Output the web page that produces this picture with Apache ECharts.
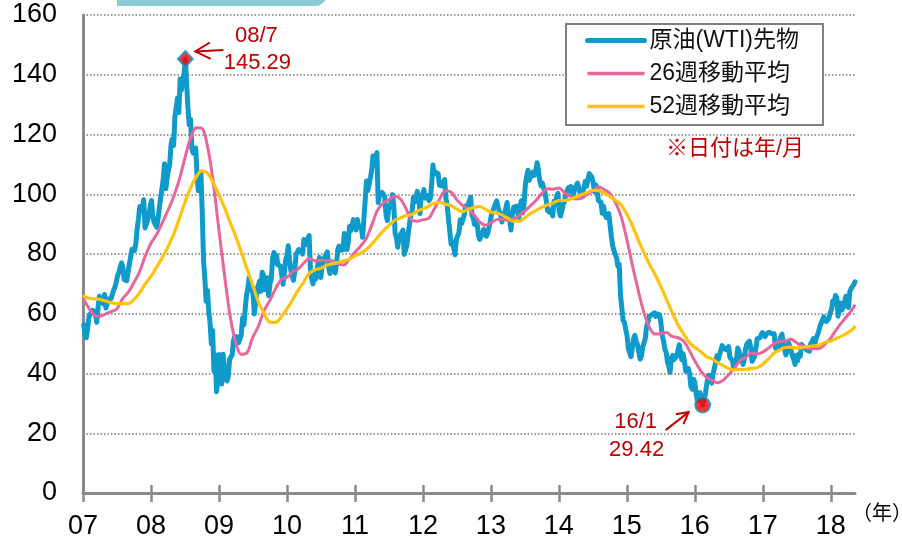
<!DOCTYPE html>
<html>
<head>
<meta charset="utf-8">
<script src="https://cdn.jsdelivr.net/npm/echarts@6/dist/echarts.min.js"></script>
<style>
  html, body { margin: 0; padding: 0; background: #ffffff; }
  #chart { width: 902px; height: 542px; }
</style>
</head>
<body>
<div id="chart"></div>
<script>
// Year tick labels on the horizontal axis
const yearTicks = [2007, 2008, 2009, 2010, 2011, 2012, 2013, 2014, 2015, 2016, 2017, 2018];
const yearLabels = ['07', '08', '09', '10', '11', '12', '13', '14', '15', '16', '17', '18'];
const yTickStep = 20;

// WTI front-month, weekly closes (one value per Friday, starting 2007-01-05)
const firstFriday = '2007-01-05';
const wti2007 = [56.31, 52.99, 51.99, 55.42, 59.02, 59.89, 59.39, 61.14, 61.64, 60.05, 57.11, 62.28, 65.87, 64.28, 63.63, 63.38, 66.46, 61.93, 62.37, 64.94, 65.20, 65.08, 64.76, 68.00, 68.99, 70.68, 72.81, 73.93, 75.57, 77.02, 75.48, 71.47, 71.98, 71.09, 74.04, 76.70, 79.10, 81.62, 81.66, 81.22, 83.69, 88.60, 91.86, 95.93, 96.32, 95.10, 98.18, 88.71, 88.28, 91.27, 93.31, 96.00];
const wti2008 = [97.91, 92.69, 90.57, 90.71, 88.96, 91.77, 95.50, 98.81, 101.84, 105.15, 110.21, 101.84, 105.62, 106.23, 110.14, 116.69, 118.52, 116.32, 125.96, 126.29, 132.19, 127.35, 138.54, 134.86, 134.62, 140.21, 145.29, 145.08, 128.88, 123.26, 125.10, 115.20, 113.77, 114.59, 115.46, 106.23, 101.18, 104.55, 106.89, 93.88, 77.70, 71.85, 64.15, 67.81, 61.04, 57.04, 49.93, 54.43, 40.81, 46.28, 33.87, 37.71];
const wti2009 = [46.34, 40.83, 36.51, 46.47, 41.68, 40.17, 37.51, 38.94, 44.76, 45.52, 46.25, 51.06, 52.38, 52.51, 52.24, 50.33, 51.55, 53.20, 58.63, 56.34, 61.67, 66.31, 68.44, 72.04, 69.55, 69.16, 66.73, 59.89, 63.56, 68.05, 69.45, 70.93, 67.51, 73.89, 72.74, 68.02, 69.29, 72.04, 66.02, 69.95, 71.77, 78.53, 80.50, 77.00, 79.62, 76.35, 76.72, 76.05, 75.47, 69.87, 73.36, 78.05];
const wti2010 = [79.36, 82.75, 78.00, 74.54, 72.89, 71.19, 74.13, 79.81, 79.66, 81.50, 81.24, 80.68, 80.00, 84.87, 84.92, 83.24, 85.12, 86.15, 75.11, 71.61, 70.04, 74.00, 71.51, 73.78, 77.18, 78.86, 72.14, 76.09, 76.01, 78.98, 78.95, 80.70, 75.39, 73.46, 75.17, 74.60, 76.45, 73.66, 76.49, 81.58, 82.66, 81.25, 81.69, 81.43, 86.85, 84.88, 81.51, 83.76, 89.19, 87.79, 88.02, 91.51, 91.38];
const wti2011 = [88.03, 91.54, 89.11, 89.34, 89.03, 85.58, 86.20, 97.88, 104.42, 101.16, 101.07, 105.40, 107.94, 112.79, 109.66, 112.29, 113.93, 97.18, 99.65, 99.49, 100.59, 100.22, 99.29, 93.01, 91.16, 94.94, 96.20, 97.24, 99.87, 95.70, 86.88, 85.38, 82.26, 85.37, 86.45, 87.24, 87.96, 79.85, 79.20, 82.98, 86.80, 87.40, 93.32, 94.26, 98.99, 97.41, 96.77, 100.96, 99.41, 93.53, 99.68, 98.83];
const wti2012 = [101.56, 98.70, 98.46, 99.56, 97.84, 98.67, 103.24, 109.77, 106.70, 107.40, 107.06, 106.87, 103.02, 103.31, 102.83, 103.05, 104.93, 98.49, 96.13, 91.48, 90.86, 83.23, 84.10, 84.03, 79.76, 84.96, 84.45, 87.10, 91.44, 90.13, 91.40, 92.87, 96.01, 96.15, 96.47, 96.42, 99.00, 92.89, 92.19, 89.88, 91.86, 90.05, 86.28, 84.86, 86.07, 86.92, 88.28, 88.91, 85.93, 86.73, 88.66, 90.80];
const wti2013 = [93.09, 93.56, 95.56, 95.88, 97.77, 95.72, 95.86, 93.13, 90.68, 91.95, 93.45, 93.71, 97.23, 92.70, 91.29, 88.01, 93.00, 95.61, 96.04, 96.02, 94.15, 91.97, 96.03, 97.85, 93.69, 96.56, 103.22, 105.95, 108.05, 104.70, 106.94, 106.03, 107.46, 106.42, 107.65, 110.53, 108.21, 104.67, 102.87, 103.84, 102.02, 100.81, 97.85, 94.61, 94.60, 93.84, 94.84, 92.72, 97.65, 96.60, 99.32, 100.32];
const wti2014 = [93.96, 92.72, 94.37, 96.64, 97.49, 99.88, 100.30, 102.20, 102.59, 102.58, 98.89, 99.46, 101.67, 101.14, 103.74, 104.30, 100.60, 99.76, 99.99, 102.02, 104.35, 102.71, 102.66, 106.91, 107.26, 105.74, 104.06, 100.83, 103.13, 102.09, 97.88, 97.65, 97.35, 93.65, 95.96, 93.29, 92.27, 92.41, 93.54, 89.74, 85.82, 82.75, 81.01, 80.54, 78.65, 75.82, 76.51, 66.15, 65.84, 57.81, 57.13, 54.73];
const wti2015 = [52.69, 48.36, 48.69, 45.59, 48.24, 51.69, 52.78, 50.81, 49.76, 49.61, 44.84, 45.72, 48.87, 49.14, 51.64, 55.74, 57.15, 59.15, 59.39, 59.69, 59.72, 60.30, 59.13, 59.96, 59.61, 59.63, 56.93, 52.74, 50.89, 48.14, 47.12, 43.87, 42.50, 40.45, 45.22, 46.05, 44.63, 44.68, 45.70, 45.54, 49.63, 47.26, 44.60, 46.59, 44.29, 40.74, 40.39, 41.71, 39.97, 35.62, 34.73, 38.10];
const wti2016 = [37.04, 33.16, 31.00, 32.19, 33.62, 30.89, 29.42, 29.64, 32.78, 35.92, 38.50, 39.44, 39.46, 36.79, 39.72, 40.36, 43.73, 45.92, 44.66, 46.21, 47.75, 49.33, 48.62, 49.07, 47.98, 47.64, 48.99, 45.41, 45.95, 44.19, 41.60, 41.80, 44.49, 48.52, 47.64, 44.44, 45.88, 43.03, 44.48, 48.24, 49.81, 50.35, 50.85, 48.70, 44.07, 43.41, 45.69, 46.06, 51.68, 51.50, 51.90, 53.02, 53.72];
const wti2017 = [53.99, 52.37, 53.22, 53.17, 53.83, 53.86, 53.40, 53.99, 53.33, 48.49, 48.78, 47.97, 50.60, 52.24, 53.18, 49.62, 49.33, 46.22, 47.84, 50.33, 49.80, 47.66, 45.83, 44.74, 43.01, 46.04, 44.23, 46.54, 45.77, 49.71, 49.58, 48.82, 48.51, 47.87, 47.29, 47.48, 49.89, 50.66, 51.67, 49.29, 51.45, 51.47, 53.90, 55.64, 56.74, 56.55, 58.95, 58.36, 57.36, 57.30, 58.47, 60.42];
const wti2018 = [61.44, 64.30, 63.37, 66.14, 65.45, 59.20, 61.68, 63.55, 61.25, 62.04, 62.34, 65.88, 64.94, 62.06, 67.39, 68.38, 68.10, 69.72, 70.70];

// Moving averages, sampled on the 1st of each month from Jan 2007 to May 2018,
// followed by the value at the last weekly close
const ma26 = [
  65.3, 61.9, 59.6, 59.1, 59.9, 60.7, 61.6, 65.0, 67.2, 70.4, 74.1, 79.3,
  83.6, 86.6, 90.3, 94.6, 99.0, 104.8, 112.0, 118.7, 122.3, 122.1, 115.8, 104.1,
  87.9, 72.4, 59.6, 50.3, 46.4, 47.0, 52.0, 55.9, 61.1, 64.4, 68.4, 71.4,
  72.1, 74.1, 74.9, 76.9, 78.5, 77.7, 77.9, 77.7, 77.7, 76.8, 76.3, 78.2,
  80.6, 82.7, 85.0, 89.6, 94.5, 97.0, 98.1, 99.3, 98.5, 95.4, 91.4, 91.0,
  91.5, 91.9, 94.9, 98.5, 101.2, 100.7, 98.2, 96.3, 95.0, 93.2, 90.8, 89.6,
  90.4, 91.5, 91.6, 91.3, 91.6, 92.9, 94.3, 96.1, 98.0, 100.2, 101.8, 101.7,
  102.1, 100.4, 99.4, 98.4, 98.6, 99.9, 101.1, 102.4, 101.6, 100.3, 97.2, 92.6,
  84.9, 75.9, 68.4, 60.8, 55.7, 53.2, 53.3, 53.7, 52.4, 52.0, 50.9, 47.9,
  44.2, 41.0, 38.9, 37.8, 36.9, 37.7, 39.6, 41.8, 44.3, 45.4, 46.9, 46.5,
  47.2, 48.5, 49.9, 50.7, 50.9, 51.5, 50.3, 49.2, 48.4, 48.3, 48.4, 49.8,
  51.9, 54.8, 57.1, 59.4, 61.9,
  63.0
];
const ma52 = [
  66.1, 65.2, 65.0, 64.8, 64.3, 63.7, 63.4, 63.4, 63.4, 64.7, 67.0, 70.0,
  72.5, 75.7, 78.7, 82.4, 86.5, 91.7, 97.2, 102.1, 105.8, 107.8, 107.0, 103.9,
  99.7, 95.4, 90.7, 85.9, 80.6, 75.0, 69.7, 63.9, 60.1, 57.2, 57.1, 58.9,
  61.6, 64.7, 67.8, 70.6, 73.5, 74.7, 75.2, 76.2, 76.7, 77.1, 77.7, 78.2,
  79.4, 80.3, 81.4, 83.3, 85.4, 87.7, 89.4, 91.2, 92.0, 92.8, 93.2, 94.3,
  95.1, 96.0, 97.0, 97.3, 96.7, 96.2, 95.0, 94.2, 94.9, 95.6, 95.9, 95.0,
  94.1, 93.7, 93.1, 92.0, 91.0, 91.0, 92.1, 93.5, 94.6, 95.6, 96.5, 97.1,
  97.9, 97.9, 98.3, 99.0, 99.8, 100.5, 101.3, 101.2, 100.4, 99.3, 98.0, 96.5,
  93.3, 89.3, 85.1, 80.7, 76.7, 73.2, 69.3, 64.9, 60.5, 56.5, 53.3, 50.5,
  48.7, 47.4, 45.7, 44.9, 43.7, 42.7, 41.7, 41.2, 41.4, 41.4, 41.7, 41.9,
  43.2, 44.9, 46.8, 47.8, 48.7, 48.8, 48.5, 48.7, 49.0, 49.3, 49.5, 50.4,
  50.9, 51.8, 52.5, 53.7, 54.9,
  56.0
];

// Highlighted extremes and their captions
const peakValue = 145.29;
const peakCaption = '08/7';
const troughValue = 29.42;
const troughCaption = '16/1';

const seriesNames = ['原油(WTI)先物', '26週移動平均', '52週移動平均'];
const noteText = '※日付は年/月';
const unitText = '（年）';

// ---------------------------------------------------------------------------
const DAY = 86400000;
function yearFraction(ms) {
  const y = new Date(ms).getUTCFullYear();
  const s = Date.UTC(y, 0, 1), e = Date.UTC(y + 1, 0, 1);
  return y + (ms - s) / (e - s);
}
const startMs = Date.parse(firstFriday + 'T00:00:00Z');
const weekly = [].concat(wti2007, wti2008, wti2009, wti2010, wti2011, wti2012,
                         wti2013, wti2014, wti2015, wti2016, wti2017, wti2018);
const wtiData = weekly.map((v, i) => [yearFraction(startMs + i * 7 * DAY), v]);
const lastX = wtiData[wtiData.length - 1][0];

function monthlyPairs(values) {
  return values.map((v, i) =>
    [i < values.length - 1 ? yearFraction(Date.UTC(2007, i, 1)) : lastX, v]);
}
const ma26Data = monthlyPairs(ma26);
const ma52Data = monthlyPairs(ma52);

const peakPoint = wtiData[weekly.indexOf(peakValue)];
const troughPoint = wtiData[weekly.indexOf(troughValue)];

const BLUE = '#0e9aca';
const PINK = '#e8669c';
const YELLOW = '#ffc20e';
const RED = '#c00000';
const AXIS_GREY = '#8a8a8a';
const LATIN = '"Liberation Sans", Arial, sans-serif';
const MIXED = '"Liberation Sans", "Noto Sans CJK JP", sans-serif';
const CJK = '"Noto Sans CJK JP", sans-serif';

const xCommon = {
  type: 'value', min: 2007, max: lastX, gridIndex: 0, position: 'bottom',
  splitLine: { show: false }
};

const chart = echarts.init(document.getElementById('chart'));
chart.setOption({
  animation: false,
  backgroundColor: '#ffffff',
  grid: { left: 83, right: 47, top: 15, bottom: 49, containLabel: false },
  legend: {
    orient: 'vertical', left: 566, top: 24,
    padding: [5, 24, 7, 19], itemGap: 10, itemWidth: 57, itemHeight: 14,
    borderColor: '#7f7f7f', borderWidth: 2, backgroundColor: '#ffffff',
    selectedMode: false,
    itemStyle: { opacity: 0 },
    textStyle: { fontSize: 23, fontFamily: MIXED, color: '#111111', lineHeight: 23 },
    data: [
      { name: seriesNames[0], lineStyle: { width: 5, cap: 'round' } },
      { name: seriesNames[1], lineStyle: { width: 3.5 } },
      { name: seriesNames[2], lineStyle: { width: 3.5 } }
    ]
  },
  xAxis: [
    Object.assign({}, xCommon, {
      axisLine: { show: true, lineStyle: { color: AXIS_GREY, width: 3 } },
      axisTick: { show: true, inside: true, length: 8, customValues: yearTicks,
                  lineStyle: { color: AXIS_GREY, width: 2.5 } },
      axisLabel: { show: true, customValues: yearTicks, margin: 20,
                   fontSize: 27, fontFamily: LATIN, color: '#000000',
                   formatter: v => yearLabels[yearTicks.indexOf(Math.round(v))] || '' }
    }),
    Object.assign({}, xCommon, {
      axisLine: { show: false },
      axisTick: { show: true, inside: false, length: 9, customValues: yearTicks,
                  lineStyle: { color: AXIS_GREY, width: 2.5 } },
      axisLabel: { show: false }
    })
  ],
  yAxis: {
    type: 'value', min: 0, max: 160, interval: yTickStep,
    axisLine: { show: true, lineStyle: { color: AXIS_GREY, width: 3 } },
    axisTick: { show: false },
    axisLabel: { fontSize: 27, fontFamily: LATIN, color: '#000000', margin: 26 },
    splitLine: { show: true, lineStyle: { color: '#9a9a9a', width: 2, type: [1.5, 2] } }
  },
  series: [
    {
      name: seriesNames[0], type: 'line', data: wtiData,
      symbol: 'none', showSymbol: false, color: BLUE,
      lineStyle: { color: BLUE, width: 5, join: 'round', cap: 'round' }
    },
    {
      name: seriesNames[1], type: 'line', data: ma26Data, smooth: 0.35,
      symbol: 'none', showSymbol: false, color: PINK,
      lineStyle: { color: PINK, width: 3 }
    },
    {
      name: seriesNames[2], type: 'line', data: ma52Data, smooth: 0.35,
      symbol: 'none', showSymbol: false, color: YELLOW,
      lineStyle: { color: YELLOW, width: 3.2 }
    },
    {
      name: 'extremes', type: 'scatter', z: 5,
      itemStyle: { color: '#ff0000', borderColor: BLUE, borderWidth: 2 },
      data: [
        { value: peakPoint, symbol: 'diamond', symbolSize: [15, 16] },
        { value: troughPoint, symbol: 'circle', symbolSize: 15 }
      ]
    }
  ]
});

// Annotations placed relative to the highlighted points
function arrow(tail, tip, armLen) {
  const ang = Math.atan2(tip[1] - tail[1], tip[0] - tail[0]);
  const a1 = ang + Math.PI - 0.5, a2 = ang + Math.PI + 0.5;
  const style = { stroke: RED, lineWidth: 2, fill: null };
  return [
    { type: 'polyline', shape: { points: [tail, tip] }, style, z: 10 },
    { type: 'polyline', shape: { points: [
        [tip[0] + armLen * Math.cos(a1), tip[1] + armLen * Math.sin(a1)], tip,
        [tip[0] + armLen * Math.cos(a2), tip[1] + armLen * Math.sin(a2)]] }, style, z: 10 }
  ];
}
function label(text, x, y) {
  return { type: 'text', z: 10, style: { text, x, y, fill: RED, font: '22px ' + LATIN,
           textAlign: 'center', textVerticalAlign: 'middle' } };
}
const P = chart.convertToPixel({ xAxisIndex: 0, yAxisIndex: 0 }, peakPoint);
const T = chart.convertToPixel({ xAxisIndex: 0, yAxisIndex: 0 }, troughPoint);

chart.setOption({
  graphic: [
    { type: 'rect', z: 1, shape: { x: 117, y: -20, width: 210, height: 26, r: [0, 0, 12, 0] },
      style: { fill: '#8ccad1' } },
    ...arrow([P[0] + 38, P[1] - 9], [P[0] + 10, P[1] - 7.5], 17),
    label(peakCaption, P[0] + 71, P[1] - 23),
    label(peakValue.toFixed(2), P[0] + 72, P[1] + 4),
    ...arrow([T[0] - 37, T[1] + 25], [T[0] - 14, T[1] + 7], 13),
    label(troughCaption, T[0] - 67, T[1] + 16.5),
    label(troughValue.toFixed(2), T[0] - 66, T[1] + 45),
    { type: 'text', z: 10, style: { text: noteText, x: 666, y: 149, fill: RED,
      font: '22px ' + MIXED, textAlign: 'left', textVerticalAlign: 'middle' } },
    { type: 'text', z: 10, style: { text: unitText, x: 852, y: 512, fill: '#000000',
      font: '20px ' + CJK, textAlign: 'left', textVerticalAlign: 'middle' } }
  ]
});
</script>
</body>
</html>
